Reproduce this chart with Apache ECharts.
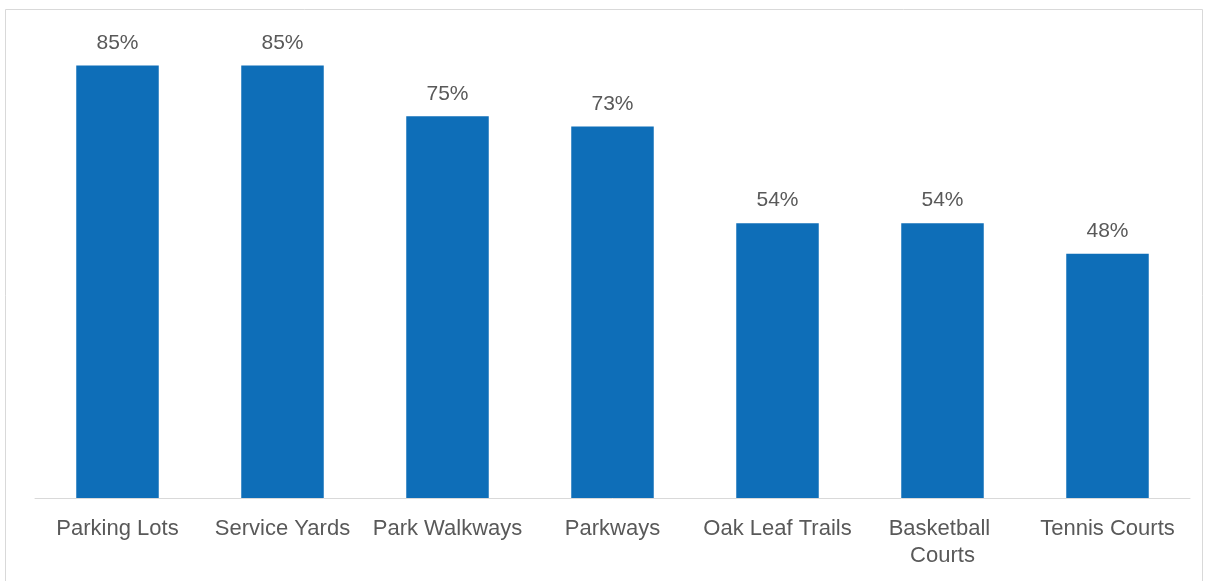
<!DOCTYPE html>
<html>
<head>
<meta charset="utf-8">
<script src="https://cdn.jsdelivr.net/npm/echarts@6/dist/echarts.min.js"></script>
<style>
  html, body { margin: 0; padding: 0; background: #ffffff; }
  #chart { width: 1206px; height: 581px; }
</style>
</head>
<body>
<div id="chart"></div>
<script>
// Facility categories and share of respondents (percent)
const categories = ['Parking Lots', 'Service Yards', 'Park Walkways', 'Parkways', 'Oak Leaf Trails', 'Basketball Courts', 'Tennis Courts'];
const values = [85, 85, 75, 73, 54, 54, 48];

const chart = echarts.init(document.getElementById('chart'), null, { renderer: 'canvas' });

const textFont = 'Liberation Sans, Arial, sans-serif';

chart.setOption({
  animation: false,
  backgroundColor: '#ffffff',
  graphic: [{
    type: 'rect',
    shape: { x: 5.5, y: 9.5, width: 1197, height: 600 },
    style: { fill: 'none', stroke: '#d9d9d9', lineWidth: 1 },
    silent: true
  }],
  grid: { left: 35, right: 16, top: 40, bottom: 83, containLabel: false },
  xAxis: {
    type: 'category',
    data: categories,
    axisLine: { show: true, lineStyle: { color: '#d9d9d9', width: 1 } },
    axisTick: { show: false },
    axisLabel: {
      color: '#595959',
      fontFamily: textFont,
      fontSize: 22,
      margin: 17,
      lineHeight: 27,
      width: 160,
      overflow: 'break',
      interval: 0
    }
  },
  yAxis: {
    type: 'value',
    min: 0,
    max: 90,
    show: false,
    splitLine: { show: false }
  },
  series: [{
    type: 'bar',
    data: values,
    barWidth: '50%',
    itemStyle: { color: '#0E6EB8' },
    label: {
      show: true,
      position: 'top',
      distance: 12,
      color: '#595959',
      fontFamily: textFont,
      fontSize: 21,
      formatter: p => p.value + '%'
    }
  }]
});
</script>
</body>
</html>
